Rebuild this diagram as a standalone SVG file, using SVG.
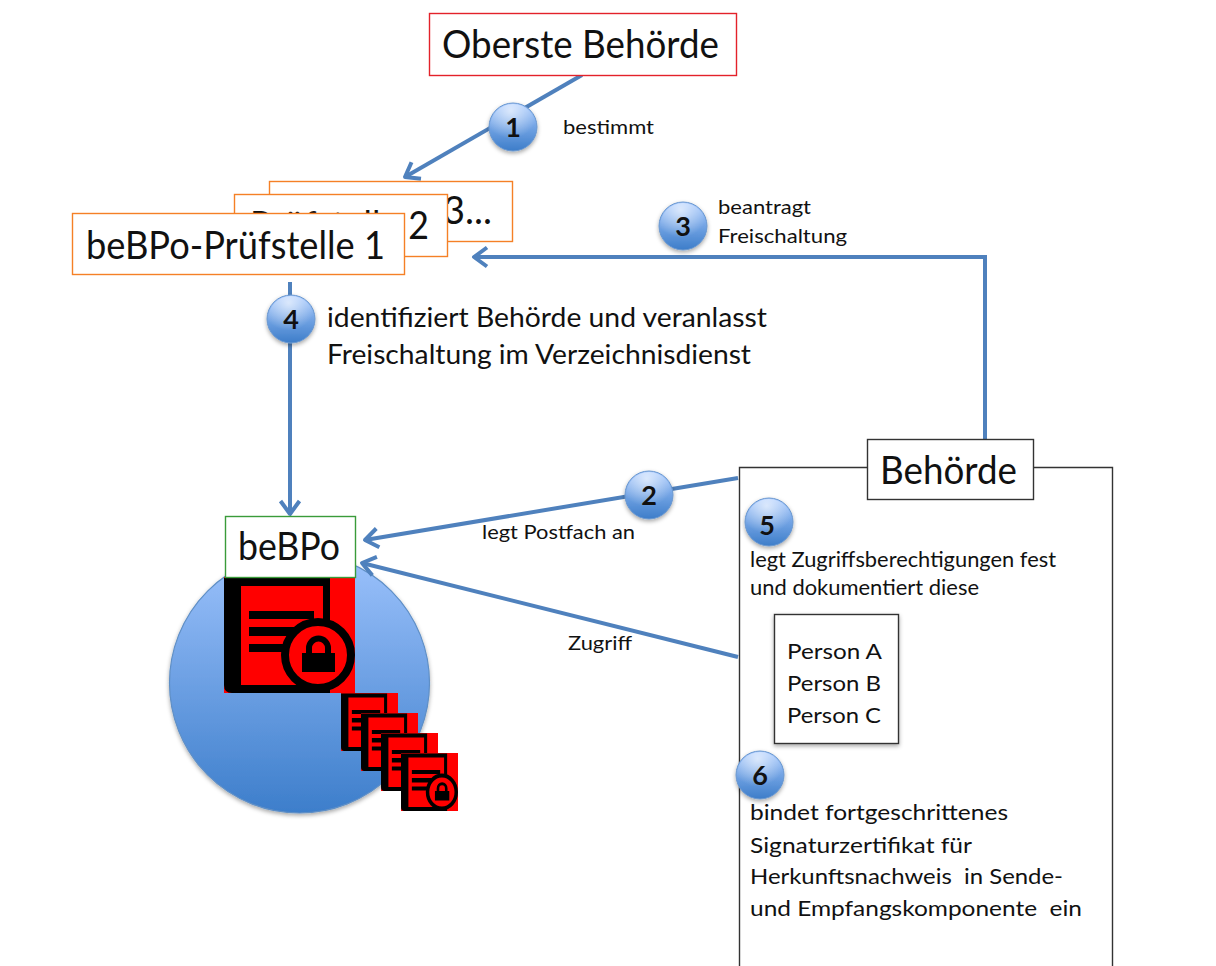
<svg xmlns="http://www.w3.org/2000/svg" width="1216" height="966" viewBox="0 0 1216 966">
<style>
text{font-family:"Lato","Liberation Sans",sans-serif;fill:#111}
.big{font-size:38px}
.mid{font-size:26px}
.sm{font-size:19px}
.std{font-size:22px}
.num{font-size:27px;font-weight:700;text-anchor:middle}
.box{fill:#fff;stroke-width:1.4}
.or{stroke:#f58026}
.dk{stroke:#333}
.line{fill:none;stroke:#4f81bd;stroke-width:4}
.arr{marker-end:url(#ah)}
</style>
<defs>
<linearGradient id="ball" x1="0" y1="0" x2="0" y2="1"><stop offset="0" stop-color="#a8caff"/><stop offset="1" stop-color="#3d7dc9"/></linearGradient>
<linearGradient id="disk" x1="0" y1="0" x2="0" y2="1"><stop offset="0" stop-color="#9cc2fc"/><stop offset="1" stop-color="#3d7ecb"/></linearGradient>
<radialGradient id="shine" cx="0.45" cy="0.15" r="0.6"><stop offset="0" stop-color="#fff" stop-opacity="0.65"/><stop offset="1" stop-color="#fff" stop-opacity="0"/></radialGradient>
<filter id="sh" x="-20%" y="-20%" width="140%" height="140%"><feDropShadow dx="0" dy="2" stdDeviation="2" flood-color="#000" flood-opacity="0.35"/></filter>
<marker id="ah" markerUnits="userSpaceOnUse" markerWidth="26" markerHeight="26" refX="19" refY="13" orient="auto"><path d="M6 3.500 L19 13 L6 22.500" fill="none" stroke="#4f81bd" stroke-width="4" stroke-linejoin="round"/></marker>
<symbol id="ic" viewBox="0 0 131 116" preserveAspectRatio="none" overflow="visible">
<rect width="131" height="116" fill="#f00"/>
<path fill-rule="evenodd" d="M0 1H106V116H8Q0 116 0 108ZM17 9V108H99V9Z" fill="#000"/>
<path d="M25 34H90V42H25ZM25 50H72V59H25ZM25 67H60V75H25Z" fill="#000"/>
<circle cx="94" cy="78" r="33" fill="#f00" stroke="#000" stroke-width="8"/>
<rect x="78" y="76" width="33" height="19" fill="#000"/>
<path d="M85 76V71a9.500 9.500 0 0 1 19 0V76" fill="none" stroke="#000" stroke-width="6"/>
</symbol>
<g id="badge"><circle r="24" fill="url(#ball)" stroke="#6b98cf" stroke-width="1" filter="url(#sh)"/><circle r="23" fill="url(#shine)"/></g>
</defs>
<rect width="1216" height="966" fill="#fff"/>

<g id="storage">
<circle cx="299.500" cy="683" r="130" fill="url(#disk)" stroke="#5f8fc6" stroke-width="1.200" filter="url(#sh)"/>
<use href="#ic" x="224" y="577" width="131" height="116"/>
<use href="#ic" x="341" y="693" width="57" height="58"/>
<use href="#ic" x="361" y="713" width="57" height="58"/>
<use href="#ic" x="381" y="733" width="57" height="58"/>
<use href="#ic" x="401" y="753" width="57" height="58"/>
</g>

<g id="connectors">
<path class="line arr" d="M582 75L405 177"/>
<path class="line arr" d="M985 439V257H474"/>
<path class="line arr" d="M290 282V514"/>
<path class="line arr" d="M738 478L365 540"/>
<path class="line arr" d="M738 657L362 563"/>
</g>

<g id="pruefstelle3"><rect class="box or" x="269.500" y="181.500" width="243" height="60"/><text class="big" x="492" y="224" text-anchor="end">Prüfstelle 3...</text></g>
<g id="pruefstelle2"><rect class="box or" x="234.500" y="194.500" width="213" height="62"/><text class="big" x="250" y="239" textLength="179" lengthAdjust="spacingAndGlyphs">Prüfstelle 2</text></g>
<g id="pruefstelle1"><rect class="box or" x="72.500" y="213.500" width="332" height="61"/><text class="big" x="86" y="259" textLength="299" lengthAdjust="spacingAndGlyphs">beBPo-Prüfstelle 1</text></g>
<g id="oberste"><rect class="box" x="429.500" y="13.500" width="307" height="62" stroke="#e3222a"/><text class="big" x="442" y="58" textLength="277" lengthAdjust="spacingAndGlyphs">Oberste Behörde</text></g>
<g id="bebpo"><rect class="box" x="225.500" y="516.500" width="130" height="61" stroke="#3a9b3a"/><text class="big" x="238" y="560" textLength="102" lengthAdjust="spacingAndGlyphs">beBPo</text></g>

<g id="behoerde-bereich"><path d="M739.500 966V467.500H1112.500V966" fill="#fff" stroke="#333" stroke-width="1.400"/></g>
<g id="behoerde"><rect class="box dk" x="867.500" y="439.500" width="166" height="60"/><text class="big" x="880" y="484" textLength="137" lengthAdjust="spacingAndGlyphs">Behörde</text></g>
<g id="personen"><rect class="box dk" x="774.500" y="614.500" width="124" height="129" filter="url(#sh)"/>
<text class="std" x="787" y="659" textLength="95" lengthAdjust="spacingAndGlyphs">Person A</text>
<text class="std" x="787" y="691" textLength="94" lengthAdjust="spacingAndGlyphs">Person B</text>
<text class="std" x="787" y="723" textLength="94" lengthAdjust="spacingAndGlyphs">Person C</text></g>

<g id="b1"><use href="#badge" x="513" y="127"/><text class="num" x="513" y="137">1</text></g>
<g id="b2"><use href="#badge" x="649" y="495"/><text class="num" x="649" y="505">2</text></g>
<g id="b3"><use href="#badge" x="683" y="226"/><text class="num" x="683" y="236">3</text></g>
<g id="b4"><use href="#badge" x="291" y="319"/><text class="num" x="291" y="329">4</text></g>
<g id="b5"><use href="#badge" x="769" y="522"/><text class="num" x="767" y="535">5</text></g>
<g id="b6"><use href="#badge" x="760" y="775"/><text class="num" x="760" y="785">6</text></g>

<g id="labels">
<text class="sm" x="563" y="134" textLength="91" lengthAdjust="spacingAndGlyphs">bestimmt</text>
<text class="sm" x="718" y="214" textLength="93" lengthAdjust="spacingAndGlyphs">beantragt</text>
<text class="sm" x="718" y="243" textLength="129" lengthAdjust="spacingAndGlyphs">Freischaltung</text>
<text class="mid" x="327" y="327" textLength="440" lengthAdjust="spacingAndGlyphs">identifiziert Behörde und veranlasst</text>
<text class="mid" x="327" y="364" textLength="424" lengthAdjust="spacingAndGlyphs">Freischaltung im Verzeichnisdienst</text>
<text class="sm" x="482" y="539" textLength="153" lengthAdjust="spacingAndGlyphs">legt Postfach an</text>
<text class="sm" x="568" y="650" textLength="64" lengthAdjust="spacingAndGlyphs">Zugriff</text>
<text class="std" x="750" y="567" textLength="306" lengthAdjust="spacingAndGlyphs">legt Zugriffsberechtigungen fest</text>
<text class="std" x="750" y="595" textLength="229" lengthAdjust="spacingAndGlyphs">und dokumentiert diese</text>
<text class="std" x="750" y="820" textLength="258" lengthAdjust="spacingAndGlyphs">bindet fortgeschrittenes</text>
<text class="std" x="750" y="853" textLength="222" lengthAdjust="spacingAndGlyphs">Signaturzertifikat für</text>
<text class="std" x="750" y="884" textLength="313" lengthAdjust="spacingAndGlyphs" xml:space="preserve">Herkunftsnachweis  in Sende-</text>
<text class="std" x="750" y="916" textLength="332" lengthAdjust="spacingAndGlyphs" xml:space="preserve">und Empfangskomponente  ein</text>
</g>
</svg>
